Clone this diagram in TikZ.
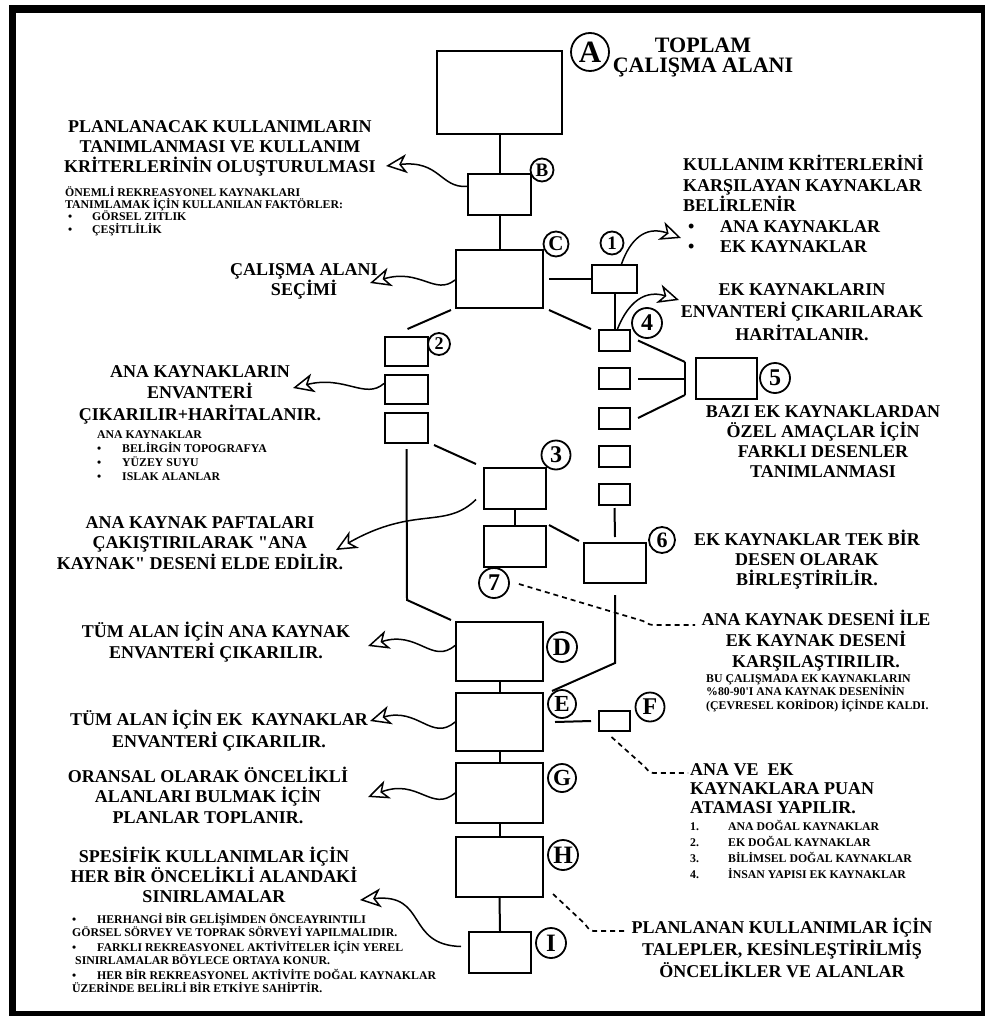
\documentclass[tikz,border=0pt]{standalone}
\usepackage{fontspec}
\setmainfont{Liberation Serif}
\usetikzlibrary{arrows.meta,calc}
\newcommand\ctext[1]{\vtop{\lineskiplimit=-100pt\halign{\hfil##\hfil\cr#1\crcr}}}
\newcommand\ltext[1]{\vtop{\lineskiplimit=-100pt\halign{##\hfil\cr#1\crcr}}}
\newcommand\bul[2][3pt]{\hbox to #2{\hskip#1\textbullet\hfil}}
\begin{document}
\begin{tikzpicture}[x=1pt,y=-1pt,
  box/.style={draw, line width=2pt, inner sep=0pt},
  conn/.style={line width=2pt},
  wave/.style={line width=1.5pt, -{Stealth[open,length=21pt,width=19pt,inset=6pt]}},
  dline/.style={line width=1.7pt, dash pattern=on 5pt off 4pt},
  lc/.style={draw, circle, line width=1.8pt, inner sep=0pt},
  bigc/.style={inner sep=0pt, anchor=base, font=\bfseries\fontsize{18}{#1}\selectfont},
  bigl/.style={inner sep=0pt, anchor=base west, font=\bfseries\fontsize{18}{#1}\selectfont},
  smalll/.style={inner sep=0pt, anchor=base west, font=\bfseries\fontsize{11.8}{#1}\selectfont}
]
\useasboundingbox (0,0) rectangle (986,1016);
% frame
\fill[black] (9,5) rectangle (985,1016);
\fill[white] (16,13) rectangle (981,1011);

% main column boxes
\node[box, minimum width=125pt, minimum height=83pt] (A) at (499.5,92.5) {};
\node[box, minimum width=63pt, minimum height=41pt] (B) at (499.5,194.5) {};
\node[box, minimum width=87pt, minimum height=58pt] (C) at (499.5,279) {};
\node[box, minimum width=87pt, minimum height=59pt] (D) at (499.5,651.5) {};
\node[box, minimum width=87pt, minimum height=58pt] (E) at (499.5,722) {};
\node[box, minimum width=87pt, minimum height=60pt] (G) at (499.5,793) {};
\node[box, minimum width=87pt, minimum height=60pt] (H) at (499.5,867) {};
\node[box, minimum width=62pt, minimum height=41pt] (I) at (500,952.5) {};
\node[box, minimum width=31pt, minimum height=20pt] (F) at (614.5,721) {};
% right column
\node[box, minimum width=45pt, minimum height=28pt] (R1) at (614.5,279) {};
\node[box, minimum width=31pt, minimum height=21pt] (R2) at (614.5,340.5) {};
\node[box, minimum width=31pt, minimum height=21pt] (R3) at (614.5,378.5) {};
\node[box, minimum width=31pt, minimum height=21pt] (R4) at (614.5,418) {};
\node[box, minimum width=31pt, minimum height=21pt] (R5) at (614.5,456) {};
\node[box, minimum width=31pt, minimum height=21pt] (R6) at (614.5,494.5) {};
\node[box, minimum width=61pt, minimum height=41pt] (P5) at (726.5,378.5) {};
\node[box, minimum width=62pt, minimum height=40pt] (S6) at (615,563) {};
% left column
\node[box, minimum width=43pt, minimum height=29pt] (L1) at (406.5,351.5) {};
\node[box, minimum width=43pt, minimum height=29pt] (L2) at (406.5,389.5) {};
\node[box, minimum width=43pt, minimum height=30pt] (L3) at (406.5,428) {};
\node[box, minimum width=62pt, minimum height=41pt] (T3) at (515,488.5) {};
\node[box, minimum width=62pt, minimum height=41pt] (T3b) at (515,546.5) {};

% circles
\node[lc, minimum size=38pt, font=\bfseries\fontsize{31}{31}\selectfont] (cA) at (590,52) {A};
\node[lc, minimum size=23pt, font=\bfseries\fontsize{19}{19}\selectfont] (cB) at (542,170) {B};
\node[lc, minimum size=25pt, font=\bfseries\fontsize{21}{21}\selectfont] (cC) at (556,244) {C};
\node[lc, minimum size=30pt, font=\bfseries\fontsize{25}{25}\selectfont] (cD) at (562,647) {D};
\node[lc, minimum size=28pt, font=\bfseries\fontsize{23}{23}\selectfont] (cE) at (562,704) {E};
\node[lc, minimum size=29pt, font=\bfseries\fontsize{24}{24}\selectfont] (cF) at (650,707) {F};
\node[lc, minimum size=28pt, font=\bfseries\fontsize{23}{23}\selectfont] (cG) at (562,778) {G};
\node[lc, minimum size=30pt, font=\bfseries\fontsize{25}{25}\selectfont] (cH) at (563,855) {H};
\node[lc, minimum size=30pt, font=\bfseries\fontsize{25}{25}\selectfont] (cI) at (551,943) {I};
\node[lc, minimum size=23pt, font=\bfseries\fontsize{19}{19}\selectfont] (c1) at (612,243) {1};
\node[lc, minimum size=22pt, font=\bfseries\fontsize{18}{18}\selectfont] (c2) at (439,344) {2};
\node[lc, minimum size=29pt, font=\bfseries\fontsize{24}{24}\selectfont] (c3) at (556,455) {3};
\node[lc, minimum size=30pt, font=\bfseries\fontsize{24}{24}\selectfont] (c4) at (647,323) {4};
\node[lc, minimum size=30pt, font=\bfseries\fontsize{24}{24}\selectfont] (c5) at (775,378) {5};
\node[lc, minimum size=26pt, font=\bfseries\fontsize{22}{22}\selectfont] (c6) at (662,540) {6};
\node[lc, minimum size=30pt, font=\bfseries\fontsize{24}{24}\selectfont] (c7) at (494,583) {7};

% connectors main column
\draw[conn] (A.south) -- (B.north);
\draw[conn] (B.south) -- (C.north);
\draw[conn] (D.south) -- (E.north);
\draw[conn] (E.south) -- (G.north);
\draw[conn] (G.south) -- (H.north);
\draw[conn] (H.south) -- (I.north);
\draw[conn] ($(C.east)+(5,0)$) -- (R1.west);
\draw[conn] (R1.south) -- (R2.north);
\draw[conn] ($(C.south east)+(5,1)$) -- ($(R2.north west)+(-7,0)$);
\draw[conn] ($(C.south west)+(-4,1)$) -- ($(L1.north)+(1,-7)$);
% bracket to 5
\coordinate (J1) at (685,362);
\coordinate (J2) at (685,395);
\draw[conn] ($(R2.east)+(7,0)$) -- (J1);
\draw[conn] ($(R3.east)+(7,0)$) -- (J1 |- R3.east);
\draw[conn] ($(R4.east)+(7,0)$) -- (J2);
\draw[conn] (J1) -- (J2);
\draw[conn] ($(R6.south)+(0,2)$) -- ($(S6.north)+(0,-5)$);
% left branch
\coordinate (K1) at (407,600);
\draw[conn] ($(L3.south)+(0,5)$) -- (K1) -- ($(D.north west)+(-4,-1)$);
\draw[conn] ($(L3.south east)+(5,1)$) -- ($(T3.north west)+(-7,-3)$);
\draw[conn] (T3.south) -- (T3b.north);
\draw[conn] ($(T3b.north east)+(2,0)$) -- ($(S6.north west)+(-4,-1)$);
\coordinate (K2) at (615,663);
\draw[conn] ($(S6.south)+(0,11)$) -- (K2) -- ($(E.north east)+(8,-1)$);
\draw[conn] ($(E.east)+(11,0)$) -- ($(F.west)+(-7,0)$);

% dashed connectors
\coordinate (dF) at (688,773);
\coordinate (d7) at (695,625);
\coordinate (dH) at (627,931);
\draw[dline] ($(F.south)+(-3,5)$) -- (645,767) .. controls (650,773) .. (657,773) -- (dF);
\draw[dline] ($(c7.east)+(9,1)$) -- (643,621) .. controls (650,625) .. (657,625) -- (d7);
\draw[dline] ($(H.south east)+(9,-4)$) -- (585,924) .. controls (590,931) .. (597,931) -- (dH);

% wavy arrows
\coordinate (tB) at (386,166);
\coordinate (tC) at (370,283);
\coordinate (t2) at (293,388);
\coordinate (t3) at (336,550);
\coordinate (tD) at (368,646);
\coordinate (tE) at (370,721);
\coordinate (tG) at (368,797);
\coordinate (tI) at (360,900);
\coordinate (t1) at (681,238);
\coordinate (t4) at (679,300);
\draw[wave] ($(B.west)+(0,-8)$) .. controls (440,188) and (440,160) .. (tB);
\draw[wave] ($(C.west)+(0,1)$) .. controls (435,296) and (420,268) .. (tC);
\draw[wave] ($(L2.west)+(0,-6)$) .. controls (365,400) and (345,375) .. (t2);
\draw[wave] ($(T3.west)+(-7,11)$) .. controls (445,530) and (415,505) .. (t3);
\draw[wave] ($(D.west)+(0,-6)$) .. controls (432,665) and (418,630) .. (tD);
\draw[wave] (E.west) .. controls (432,742) and (418,707) .. (tE);
\draw[wave] (G.west) .. controls (432,813) and (418,778) .. (tG);
\draw[wave] ($(I.west)+(-7,-6)$) .. controls (405,945) and (428,893) .. (tI);
\draw[wave] ($(R1.north)+(7,0)$) .. controls (630,240) and (645,225) .. (t1);
\draw[wave] ($(R2.north)+(3,0)$) .. controls (625,310) and (640,288) .. (t4);

% texts
\node[bigc=20, font=\bfseries\fontsize{22}{20}\selectfont] (txA) at (703,53) {\ctext{TOPLAM\cr ÇALIŞMA ALANI}};
\node[bigc=20] (txB) at (220,133) {\ctext{PLANLANACAK KULLANIMLARIN\cr TANIMLANMASI VE KULLANIM\cr KRİTERLERİNİN OLUŞTURULMASI}};
\node[smalll=12] (txBs) at (65,197) {\ltext{ÖNEMLİ REKREASYONEL KAYNAKLARI\cr TANIMLAMAK İÇİN KULLANILAN FAKTÖRLER:\cr \bul{27pt}GÖRSEL ZITLIK\cr \bul{27pt}ÇEŞİTLİLİK}};
\node[bigl=20.5] (tx1) at (683,171) {\ltext{KULLANIM KRİTERLERİNİ\cr KARŞILAYAN KAYNAKLAR\cr BELİRLENİR\cr \bul[5pt]{37pt}ANA KAYNAKLAR\cr \bul[5pt]{37pt}EK KAYNAKLAR}};
\node[bigc=20] (txC) at (304,275) {\ctext{ÇALIŞMA ALANI\cr SEÇİMİ}};
\node[bigc=22.5] (tx4) at (802,295) {\ctext{EK KAYNAKLARIN\cr ENVANTERİ ÇIKARILARAK\cr HARİTALANIR.}};
\node[bigc=20] (tx5) at (823,417) {\ctext{BAZI EK KAYNAKLARDAN\cr ÖZEL AMAÇLAR İÇİN\cr FARKLI DESENLER\cr TANIMLANMASI}};
\node[bigc=21.5] (tx2) at (200,377) {\ctext{ANA KAYNAKLARIN\cr ENVANTERİ\cr ÇIKARILIR+HARİTALANIR.}};
\node[smalll=14] (tx2s) at (96,438) {\ltext{\hskip1pt ANA KAYNAKLAR\cr \bul[1pt]{26pt}BELİRGİN TOPOGRAFYA\cr \bul[1pt]{26pt}YÜZEY SUYU\cr \bul[1pt]{26pt}ISLAK ALANLAR}};
\node[bigc=20.5] (tx3) at (200,528) {\ctext{ANA KAYNAK PAFTALARI\cr ÇAKIŞTIRILARAK \textquotedbl ANA\cr KAYNAK\textquotedbl\ DESENİ ELDE EDİLİR.}};
\node[bigc=21] (txD) at (216,637) {\ctext{TÜM ALAN İÇİN ANA KAYNAK\cr ENVANTERİ ÇIKARILIR.}};
\node[bigc=22] (txE) at (219,725) {\ctext{TÜM ALAN İÇİN EK\ \ KAYNAKLAR\cr ENVANTERİ ÇIKARILIR.}};
\node[bigc=20.5] (txG) at (208,782) {\ctext{ORANSAL OLARAK ÖNCELİKLİ\cr ALANLARI BULMAK İÇİN\cr PLANLAR TOPLANIR.}};
\node[bigc=20] (txI) at (214,862) {\ctext{SPESİFİK KULLANIMLAR İÇİN\cr HER BİR ÖNCELİKLİ ALANDAKİ\cr SINIRLAMALAR}};
\node[smalll=13] (txIs) at (72,923) {\ltext{\bul[0pt]{25pt}HERHANGİ BİR GELİŞİMDEN ÖNCEAYRINTILI\cr GÖRSEL SÖRVEY VE TOPRAK SÖRVEYİ YAPILMALIDIR.\cr\noalign{\vskip2pt}\bul[0pt]{25pt}FARKLI REKREASYONEL AKTİVİTELER İÇİN YEREL\cr \hskip3pt SINIRLAMALAR BÖYLECE ORTAYA KONUR.\cr\noalign{\vskip2pt}\bul[0pt]{25pt}HER BİR REKREASYONEL AKTİVİTE DOĞAL KAYNAKLAR\cr ÜZERİNDE BELİRLİ BİR ETKİYE SAHİPTİR.}};
\node[bigc=20] (tx6) at (807,545) {\ctext{EK KAYNAKLAR TEK BİR\cr DESEN OLARAK\cr BİRLEŞTİRİLİR.}};
\node[bigc=21] (tx7) at (816,625) {\ctext{ANA KAYNAK DESENİ İLE\cr EK KAYNAK DESENİ\cr KARŞILAŞTIRILIR.}};
\node[smalll=13.5] (tx7s) at (706,682) {\ltext{BU ÇALIŞMADA EK KAYNAKLARIN\cr \%80-90\textquotesingle I ANA KAYNAK DESENİNİN\cr (ÇEVRESEL KORİDOR) İÇİNDE KALDI.}};
\node[bigl=19] (txF) at (690,775) {\ltext{ANA VE\ \ EK\cr KAYNAKLARA PUAN\cr ATAMASI YAPILIR.}};
\node[smalll=16] (txFs) at (690,830) {\ltext{\hbox to 38pt{1.\hfil}ANA DOĞAL KAYNAKLAR\cr \hbox to 38pt{2.\hfil}EK DOĞAL KAYNAKLAR\cr \hbox to 38pt{3.\hfil}BİLİMSEL DOĞAL KAYNAKLAR\cr \hbox to 38pt{4.\hfil}İNSAN YAPISI EK KAYNAKLAR}};
\node[bigc=22] (txH) at (782,933) {\ctext{PLANLANAN KULLANIMLAR İÇİN\cr TALEPLER, KESİNLEŞTİRİLMİŞ\cr ÖNCELİKLER VE ALANLAR}};
\end{tikzpicture}
\end{document}
